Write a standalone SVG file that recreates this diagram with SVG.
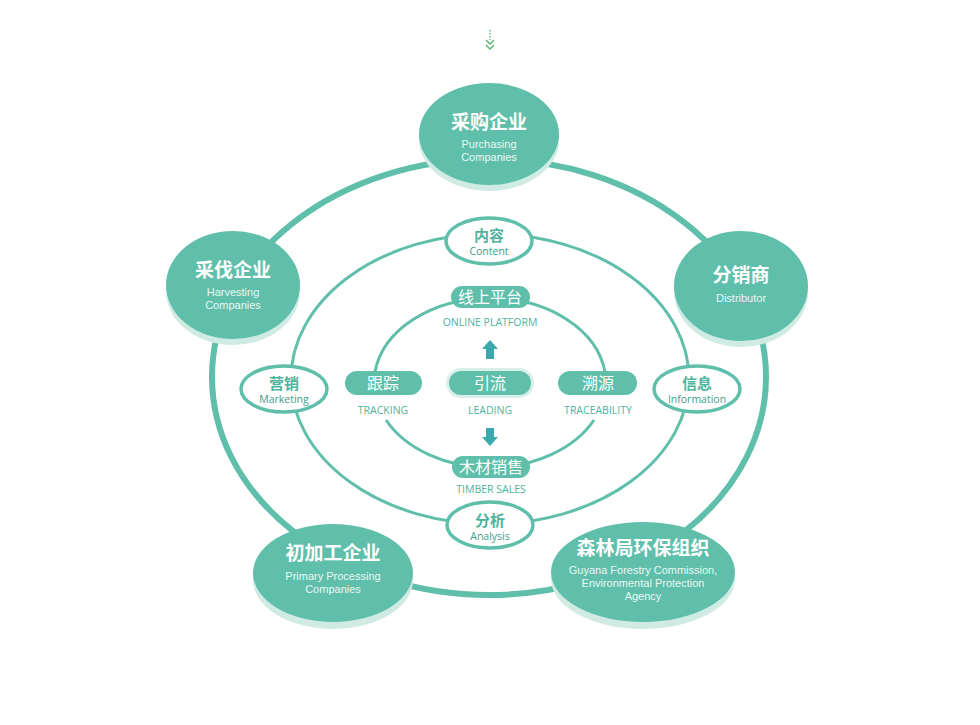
<svg xmlns="http://www.w3.org/2000/svg" width="980" height="725" viewBox="0 0 980 725">
<defs>
<style>
.ring{fill:none;stroke:#5fbfaa}
.big{fill:#5fbfaa}
.shadow{fill:#cfebe4}
.cnB{font-family:"Noto Sans CJK SC","Noto Sans",sans-serif;font-size:19px;font-weight:700;fill:#fff;text-anchor:middle}
.enB{font-family:"Liberation Sans","Noto Sans",sans-serif;font-size:11px;fill:#eaf7f3;text-anchor:middle}
.small{fill:#fff;stroke:#5fbfaa;stroke-width:3.5}
.cnS{font-family:"Noto Sans CJK SC","Noto Sans",sans-serif;font-size:15px;font-weight:700;fill:#4fb39d;text-anchor:middle}
.enS{font-family:"Open Sans","Noto Sans",sans-serif;font-size:10.5px;fill:#3f9e8b;text-anchor:middle}
.pill{fill:#5fbfaa}
.cnP{font-family:"Noto Sans CJK SC","Noto Sans",sans-serif;font-size:16px;fill:#fff;text-anchor:middle}
.enP{font-family:"Open Sans","Noto Sans",sans-serif;font-size:10.5px;fill:#4fb39d;text-anchor:middle}
.arrow{fill:#3aa9ad}
</style>
</defs>
<rect width="980" height="725" fill="#fff"/>
<g id="top-arrow" stroke="#4fb36a" fill="none" stroke-width="1.3">
<line x1="490" y1="30" x2="490" y2="40" stroke-dasharray="1.5,1.5"/>
<polyline points="486,40 490,44 494,40"/>
<polyline points="486,45 490,49 494,45"/>
</g>
<g id="connectors">
<ellipse class="ring" cx="489" cy="377" rx="277" ry="218" stroke-width="6"/>
<ellipse class="ring" cx="490" cy="379" rx="199" ry="145" stroke-width="3"/>
<path class="ring" stroke-width="3" d="M375,372 A116,85 0 0 1 605,372"/>
<path class="ring" stroke-width="3" d="M386,420 A116,85 0 0 0 594,420"/>
<path class="arrow" d="M490,340 L498,349 L494,349 L494,359 L486,359 L486,349 L482,349 Z"/>
<path class="arrow" d="M490,446 L498,437 L494,437 L494,428 L486,428 L486,437 L482,437 Z"/>
</g>
<g id="purchasing">
<ellipse class="shadow" cx="489" cy="140" rx="70" ry="51"/>
<ellipse class="big" cx="489" cy="134" rx="70" ry="51"/>
<text class="cnB" x="489" y="129">采购企业</text>
<text class="enB" x="489" y="148">Purchasing</text>
<text class="enB" x="489" y="161">Companies</text>
</g>
<g id="harvesting">
<ellipse class="shadow" cx="233" cy="291" rx="67" ry="54"/>
<ellipse class="big" cx="233" cy="285" rx="67" ry="54"/>
<text class="cnB" x="233" y="277">采伐企业</text>
<text class="enB" x="233" y="296">Harvesting</text>
<text class="enB" x="233" y="309">Companies</text>
</g>
<g id="distributor">
<ellipse class="shadow" cx="741" cy="292" rx="67" ry="55"/>
<ellipse class="big" cx="741" cy="286" rx="67" ry="55"/>
<text class="cnB" x="741" y="282">分销商</text>
<text class="enB" x="741" y="302">Distributor</text>
</g>
<g id="primary">
<ellipse class="shadow" cx="333" cy="580" rx="80" ry="49"/>
<ellipse class="big" cx="333" cy="573" rx="80" ry="49"/>
<text class="cnB" x="333" y="560">初加工企业</text>
<text class="enB" x="333" y="580">Primary Processing</text>
<text class="enB" x="333" y="593">Companies</text>
</g>
<g id="forestry">
<ellipse class="shadow" cx="643" cy="579" rx="92" ry="50"/>
<ellipse class="big" cx="643" cy="572" rx="92" ry="50"/>
<text class="cnB" x="643" y="555">森林局环保组织</text>
<text class="enB" x="643" y="574">Guyana Forestry Commission,</text>
<text class="enB" x="643" y="587">Environmental Protection</text>
<text class="enB" x="643" y="600">Agency</text>
</g>
<g id="content">
<ellipse class="small" cx="489" cy="241" rx="43" ry="23"/>
<text class="cnS" x="489" y="241">内容</text>
<text class="enS" x="489" y="255">Content</text>
</g>
<g id="marketing">
<ellipse class="small" cx="284" cy="389" rx="43" ry="23"/>
<text class="cnS" x="284" y="389">营销</text>
<text class="enS" x="284" y="403">Marketing</text>
</g>
<g id="information">
<ellipse class="small" cx="697" cy="389" rx="43" ry="23"/>
<text class="cnS" x="697" y="389">信息</text>
<text class="enS" x="697" y="403">Information</text>
</g>
<g id="analysis">
<ellipse class="small" cx="490" cy="525" rx="43" ry="23"/>
<text class="cnS" x="490" y="526">分析</text>
<text class="enS" x="490" y="540">Analysis</text>
</g>
<g id="online">
<rect class="pill" x="451" y="286" width="79" height="22" rx="11"/>
<text class="cnP" x="490" y="303">线上平台</text>
<text class="enP" x="490" y="326">ONLINE PLATFORM</text>
</g>
<g id="tracking">
<rect class="pill" x="345" y="371" width="77" height="24" rx="12"/>
<text class="cnP" x="383" y="389">跟踪</text>
<text class="enP" x="383" y="414">TRACKING</text>
</g>
<g id="leading">
<rect x="446" y="368" width="88" height="30" rx="15" fill="#d9f0ea"/>
<rect class="pill" x="449" y="371" width="82" height="24" rx="12"/>
<text class="cnP" x="490" y="389">引流</text>
<text class="enP" x="490" y="414">LEADING</text>
</g>
<g id="traceability">
<rect class="pill" x="558" y="371" width="79" height="24" rx="12"/>
<text class="cnP" x="598" y="389">溯源</text>
<text class="enP" x="598" y="414">TRACEABILITY</text>
</g>
<g id="timber">
<rect class="pill" x="452" y="456" width="78" height="22" rx="11"/>
<text class="cnP" x="491" y="473">木材销售</text>
<text class="enP" x="491" y="493">TIMBER SALES</text>
</g>
</svg>
